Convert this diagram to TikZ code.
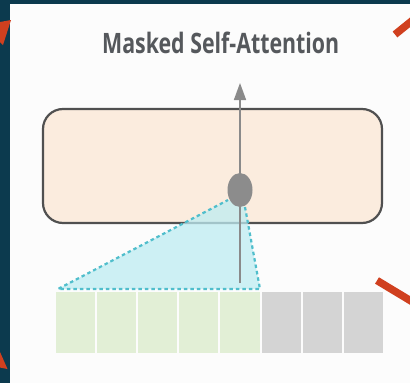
\documentclass[tikz,border=0pt]{standalone}
\usepackage{fontspec}
\newfontfamily\titlefont{Open Sans}
\usetikzlibrary{arrows.meta,shapes.geometric}
\definecolor{bgteal}{RGB}{12,58,78}
\definecolor{panelwhite}{RGB}{252,252,252}
\definecolor{redmark}{RGB}{208,64,31}
\definecolor{titlegray}{RGB}{85,88,92}
\definecolor{peach}{RGB}{251,236,222}
\definecolor{rectstroke}{RGB}{80,80,80}
\definecolor{arrowgray}{RGB}{138,138,138}
\definecolor{dotgray}{RGB}{140,140,140}
\definecolor{cyanfill}{RGB}{190,236,242}
\definecolor{cyanline}{RGB}{80,190,204}
\definecolor{cellgreen}{RGB}{226,239,214}
\definecolor{cellgray}{RGB}{212,212,212}
\tikzset{
  layerbox/.style={draw=rectstroke, line width=2.2pt, fill=peach, rounded corners=20pt},
  cellbox/.style={draw=none, minimum width=39.1pt, minimum height=61pt, inner sep=0pt, outer sep=0pt, anchor=north west},
  attnedge/.style={draw=cyanline, line width=2.2pt, dash pattern=on 3.5pt off 3pt},
  outarrow/.style={draw=arrowgray, line width=1.6pt, -{Triangle[length=17pt,width=12pt]}},
  redbar/.style={draw=redmark, line width=7.5pt},
}
\begin{document}
\begin{tikzpicture}[x=1pt,y=-1pt]
\useasboundingbox (0,0) rectangle (410,383);
% background and panel
\fill[bgteal] (0,0) rectangle (410,383);
\fill[panelwhite] (10,4) rectangle (410,383);
% red marks
\fill[redmark] (0,22) -- (11,20) -- (3,45) -- (0,42) -- cycle;
\fill[redmark] (0,352) -- (7.5,369) -- (0,367.5) -- cycle;
\draw[redbar] (395,34.5) -- (416,17.5);
\draw[redbar] (377,280.5) -- (416,304);
% title
\node[anchor=base west, inner sep=0pt, text=titlegray] (title) at (102,53)
  {\resizebox{237pt}{21.5pt}{\titlefont\bfseries Masked Self-Attention}};
% layer box
\node[layerbox, minimum width=339pt, minimum height=114pt, inner sep=0pt] (layer) at (212.5,166) {};
% cells
\foreach \i in {1,...,5} {
  \node[cellbox, fill=cellgreen] (c\i) at ({56+(\i-1)*41.1},292) {};
}
\foreach \i in {6,...,8} {
  \node[cellbox, fill=cellgray] (c\i) at ({56+(\i-1)*41.1},292) {};
}
% attention region
\coordinate (tl) at (228,200);
\coordinate (tr) at (245,207);
\coordinate (bl) at (58,289);
\coordinate (br) at (260,289);
\fill[cyanfill, fill opacity=0.75] (tl) -- (bl) -- (br) -- (tr) -- cycle;
% output arrow
\coordinate (arrstart) at (240,283);
\coordinate (arrend) at (240,83);
\draw[outarrow] (arrstart) -- (arrend);
% dashed edges
\draw[attnedge] (tr) -- (br) -- (bl) -- (tl);
% query dot
\node[ellipse, fill=dotgray, minimum width=25pt, minimum height=34pt, inner sep=0pt] (dot) at (240,190) {};
\end{tikzpicture}
\end{document}
